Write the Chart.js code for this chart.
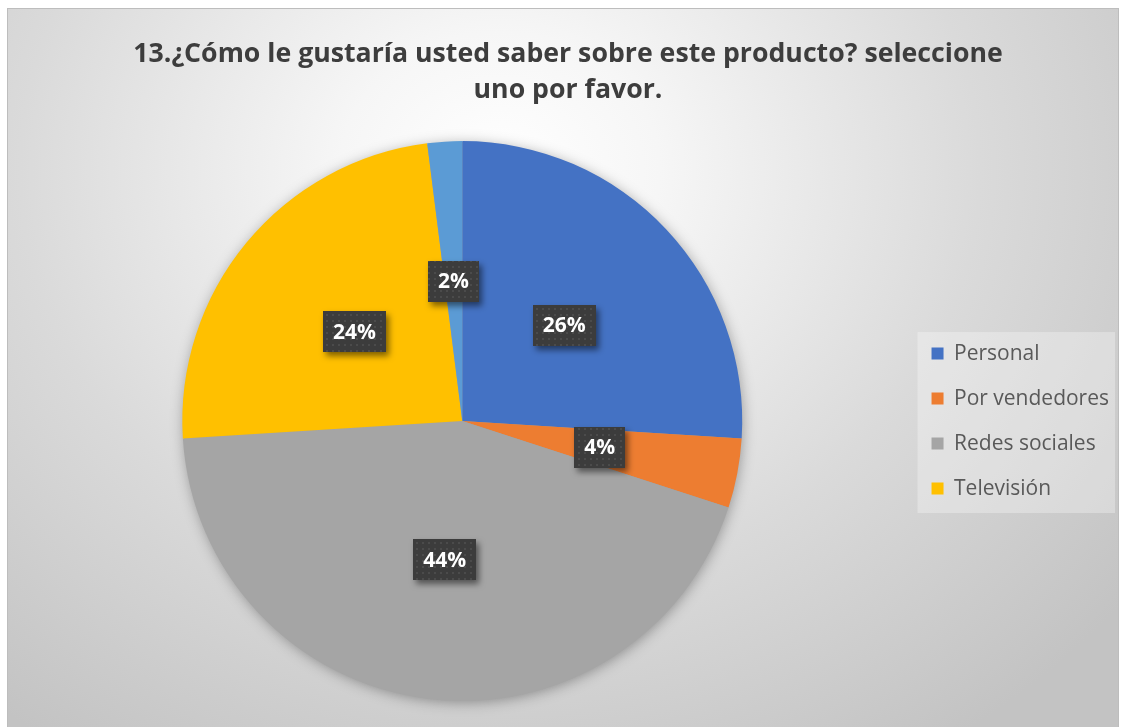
<!DOCTYPE html>
<html lang="es">
<head>
<meta charset="utf-8">
<title>Pregunta 13</title>
<script src="https://cdn.jsdelivr.net/npm/chart.js@4.4.1/dist/chart.umd.min.js"></script>
<style>
  html, body { margin: 0; padding: 0; background: #fff; }
  canvas { display: block; }
</style>
</head>
<body>
<canvas id="grafico" width="1127" height="727"></canvas>
<script>
const categorias = ['Personal', 'Por vendedores', 'Redes sociales', 'Televisión', ''];
const porcentajes = [26, 4, 44, 24, 2];
const colores = ['#4472C4', '#ED7D31', '#A5A5A5', '#FFC000', '#5B9BD5'];
const titulo = ['13.¿Cómo le gustaría usted saber sobre este producto? seleccione', 'uno por favor.'];

// Fondo con degradado radial, marco y panel de la leyenda
const fondo = {
  id: 'fondo',
  beforeDraw(chart) {
    const ctx = chart.ctx;
    const w = chart.width, h = chart.height;
    ctx.save();
    ctx.fillStyle = '#fff';
    ctx.fillRect(0, 0, w, h);

    const x0 = 7, y0 = 8, x1 = w - 8, y1 = h;
    const cx = 500, cy = 170, rx = 800, ry = 690;
    ctx.save();
    ctx.beginPath();
    ctx.rect(x0, y0, x1 - x0, y1 - y0);
    ctx.clip();
    ctx.translate(cx, cy);
    ctx.scale(rx / ry, 1);
    const g = ctx.createRadialGradient(0, 0, 0, 0, 0, ry);
    g.addColorStop(0, '#ffffff');
    g.addColorStop(0.2, '#f6f6f6');
    g.addColorStop(0.6, '#dadada');
    g.addColorStop(1, '#c3c3c3');
    ctx.fillStyle = g;
    ctx.fillRect(-cx * ry / rx - 20, -cy - 20, w * ry / rx + 40, h + 40);
    ctx.restore();

    ctx.strokeStyle = '#bdbdbd';
    ctx.lineWidth = 1;
    ctx.strokeRect(x0 + 0.5, y0 + 0.5, x1 - x0 - 1, y1 - y0 + 5);

    // panel de la leyenda
    const lg = chart.legend;
    if (lg && lg.width) {
      const midY = (lg.top + lg.bottom) / 2;
      const px = lg.left + 10;
      ctx.fillStyle = 'rgba(255,255,255,0.3)';
      ctx.fillRect(px, midY - 89, lg.right - 4 - px, 181);
    }
    ctx.restore();
  }
};

// Sombra suave alrededor del círculo
const sombra = {
  id: 'sombra',
  beforeDatasetsDraw(chart) {
    const arc = chart.getDatasetMeta(0).data[0];
    if (!arc) return;
    const { x, y, outerRadius } = arc.getProps(['x', 'y', 'outerRadius'], true);
    const ctx = chart.ctx;
    ctx.save();
    ctx.shadowColor = 'rgba(0,0,0,0.35)';
    ctx.shadowBlur = 14;
    ctx.shadowOffsetX = 1;
    ctx.shadowOffsetY = 2;
    ctx.fillStyle = '#a0a0a0';
    ctx.beginPath();
    ctx.arc(x, y, outerRadius - 1, 0, Math.PI * 2);
    ctx.fill();
    ctx.restore();
  }
};

// Trama de puntos para las etiquetas
function tramaEtiqueta(ctx) {
  const c = document.createElement('canvas');
  c.width = 6; c.height = 6;
  const p = c.getContext('2d');
  p.fillStyle = '#3c3c3c';
  p.fillRect(0, 0, 6, 6);
  p.fillStyle = '#4b4b4b';
  p.fillRect(2, 2, 2, 2);
  return ctx.createPattern(c, 'repeat');
}

// Etiquetas de porcentaje en el centro de cada sector
const etiquetas = {
  id: 'etiquetas',
  afterDatasetsDraw(chart) {
    const ctx = chart.ctx;
    const meta = chart.getDatasetMeta(0);
    const datos = chart.data.datasets[0].data;
    const trama = tramaEtiqueta(ctx);
    ctx.save();
    ctx.font = 'bold 21px "Open Sans"';
    ctx.textAlign = 'center';
    ctx.textBaseline = 'middle';
    meta.data.forEach((arc, i) => {
      const p = arc.tooltipPosition(true);
      const texto = datos[i] + '%';
      const tw = ctx.measureText(texto).width;
      const bw = Math.round(tw + 20), bh = 41;
      const bx = Math.round(p.x - bw / 2), by = Math.round(p.y - bh / 2);
      ctx.save();
      ctx.shadowColor = 'rgba(0,0,0,0.5)';
      ctx.shadowBlur = 6;
      ctx.shadowOffsetX = 3;
      ctx.shadowOffsetY = 4;
      ctx.fillStyle = trama;
      ctx.fillRect(bx, by, bw, bh);
      ctx.restore();
      ctx.fillStyle = '#ffffff';
      ctx.fillText(texto, p.x, p.y + 1);
    });
    ctx.restore();
  }
};

const ctx = document.getElementById('grafico').getContext('2d');
new Chart(ctx, {
  type: 'pie',
  data: {
    labels: categorias,
    datasets: [{
      data: porcentajes,
      backgroundColor: colores,
      borderWidth: 0,
      hoverOffset: 0
    }]
  },
  options: {
    responsive: false,
    animation: false,
    events: [],
    layout: { padding: { left: 17, right: 8, top: 0, bottom: 26 } },
    plugins: {
      title: {
        display: true,
        text: titulo,
        color: '#3d3d3d',
        font: { family: 'Open Sans', size: 26.7, weight: 'bold', lineHeight: 1.35 },
        padding: { top: 36, bottom: 33 }
      },
      legend: {
        position: 'right',
        align: 'center',
        fullSize: false,
        labels: {
          font: { family: 'Open Sans', size: 21 },
          color: '#595959',
          boxWidth: 12,
          boxHeight: 12,
          padding: 24,
          filter: item => item.text !== ''
        }
      },
      tooltip: { enabled: false }
    }
  },
  plugins: [fondo, sombra, etiquetas]
});
</script>
</body>
</html>
